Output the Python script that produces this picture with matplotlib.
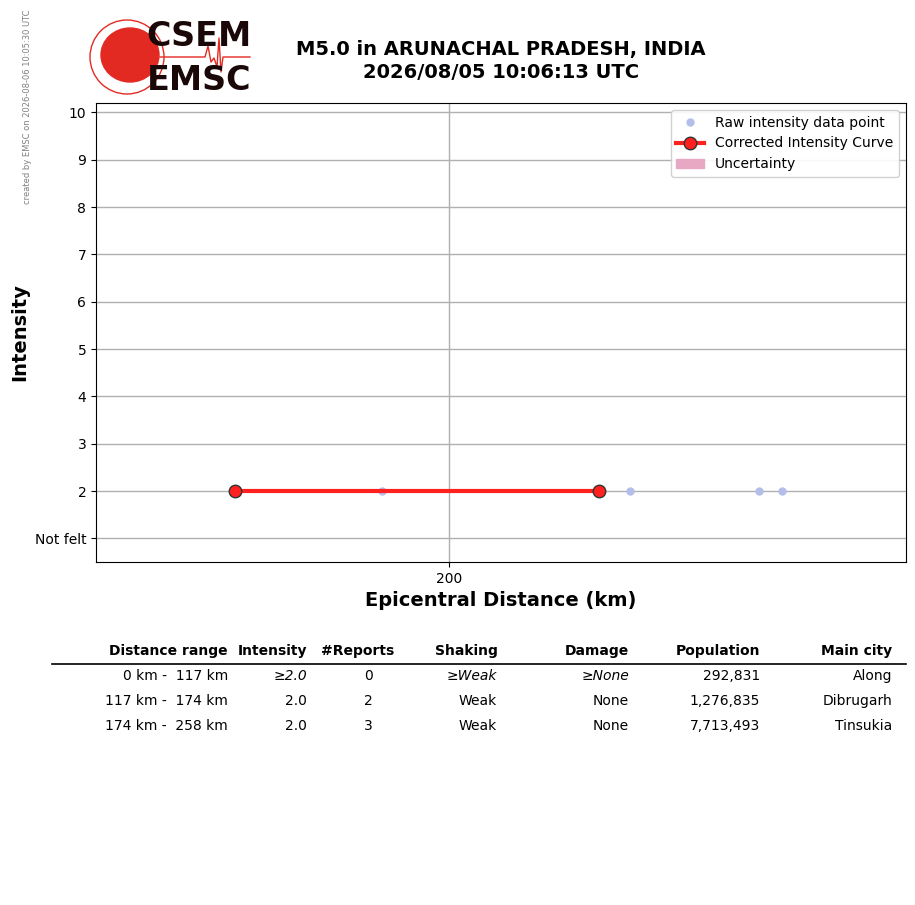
import matplotlib
matplotlib.use("Agg")
import matplotlib.pyplot as plt
import numpy as np
from matplotlib.patches import Circle, Ellipse

# corrected curve and raw reports
curve_dist = [117, 258]
curve_int = [2.0, 2.0]
raw_dist = [174, 270, 320, 329]
raw_int = [2.0, 2.0, 2.0, 2.0]

ytick_vals = [1, 2, 3, 4, 5, 6, 7, 8, 9, 10]
ytick_labels = ["Not felt", "2", "3", "4", "5", "6", "7", "8", "9", "10"]
xtick_vals = [200]

headers = ["Distance range", "Intensity", "#Reports", "Shaking", "Damage", "Population", "Main city"]
rows = [
    ["0 km -  117 km", "≥2.0", "0", "≥Weak", "≥None", "292,831", "Along"],
    ["117 km -  174 km", "2.0", "2", "Weak", "None", "1,276,835", "Dibrugarh"],
    ["174 km -  258 km", "2.0", "3", "Weak", "None", "7,713,493", "Tinsukia"],
]
italic_cells = {(0, 1), (0, 3), (0, 4)}

W, H = 915, 905
fig = plt.figure(figsize=(W / 100, H / 100), dpi=100)

def fx(px):
    return px / W

def fy(py):
    return 1 - py / H

ax = fig.add_axes([fx(96), fy(562), fx(906) - fx(96), fy(103) - fy(562)])
ax.plot(raw_dist, raw_int, 'o', color='#b3bfea', markersize=5, linestyle='none',
        label='Raw intensity data point', zorder=3)
ax.plot(curve_dist, curve_int, '-o', color='#ff2020', linewidth=3, markersize=9,
        markerfacecolor='#ff2020', markeredgecolor='#333333', markeredgewidth=1,
        label='Corrected Intensity Curve', zorder=4)
ax.fill_between([], [], [], color='#e8a8c4', label='Uncertainty')
ax.set_xlim(63.2, 376.9)
ax.set_ylim(0.5, 10.2)
ax.set_xticks(xtick_vals)
ax.set_yticks(ytick_vals)
ax.set_yticklabels(ytick_labels)
ax.tick_params(labelsize=10)
ax.grid(True, color='#b0b0b0', linewidth=1)
ax.set_axisbelow(True)
ax.set_xlabel('Epicentral Distance (km)', fontsize=14, fontweight='bold', labelpad=4)
ax.set_ylabel('Intensity', fontsize=14, fontweight='bold', labelpad=4)
ax.legend(loc='upper right', fontsize=10, framealpha=0.9)

fig.text(fx(501), fy(49), 'M5.0 in ARUNACHAL PRADESH, INDIA', ha='center', va='center',
         fontsize=14, fontweight='bold')
fig.text(fx(501), fy(72), '2026/08/05 10:06:13 UTC', ha='center', va='center',
         fontsize=14, fontweight='bold')
fig.text(fx(28), fy(107), 'created by EMSC on 2026-08-06 10:05:30 UTC', rotation=90,
         ha='center', va='center', fontsize=6, color='gray')

# logo
lax = fig.add_axes([fx(85), fy(100), fx(260) - fx(85), fy(14) - fy(100)])
lax.set_xlim(85, 260)
lax.set_ylim(100, 14)
lax.set_aspect('equal')
lax.axis('off')
lax.add_patch(Circle((127, 57), 37, fill=False, edgecolor='#e32a22', linewidth=1))
lax.add_patch(Ellipse((130, 55), 58, 54, color='#e32a22'))
lax.plot([160, 205, 208, 211, 214, 217, 219, 221, 223, 250],
         [57, 57, 46, 62, 58, 67, 38, 72, 57, 57], color='#e32a22', linewidth=1)
lax.text(199, 37, 'CSEM', ha='center', va='center', fontsize=24, fontweight='bold', color='#1a0808')
lax.text(199, 81, 'EMSC', ha='center', va='center', fontsize=24, fontweight='bold', color='#1a0808')

# table
head_x = [228, 307, 394, 498, 629, 760, 892]
val_x = [228, 307, 373, 497, 629, 760, 892]
for h, x in zip(headers, head_x):
    fig.text(fx(x), fy(651), h, ha='right', va='center', fontsize=10, fontweight='bold')
fig.add_artist(plt.Line2D([fx(52), fx(906)], [fy(664), fy(664)], color='black', linewidth=1.2))
for i, row in enumerate(rows):
    y = 676 + 25 * i
    for j, (cell, x) in enumerate(zip(row, val_x)):
        style = 'italic' if (i, j) in italic_cells else 'normal'
        fig.text(fx(x), fy(y), cell, ha='right', va='center', fontsize=10, fontstyle=style)

fig.savefig('out.png', dpi=100)
